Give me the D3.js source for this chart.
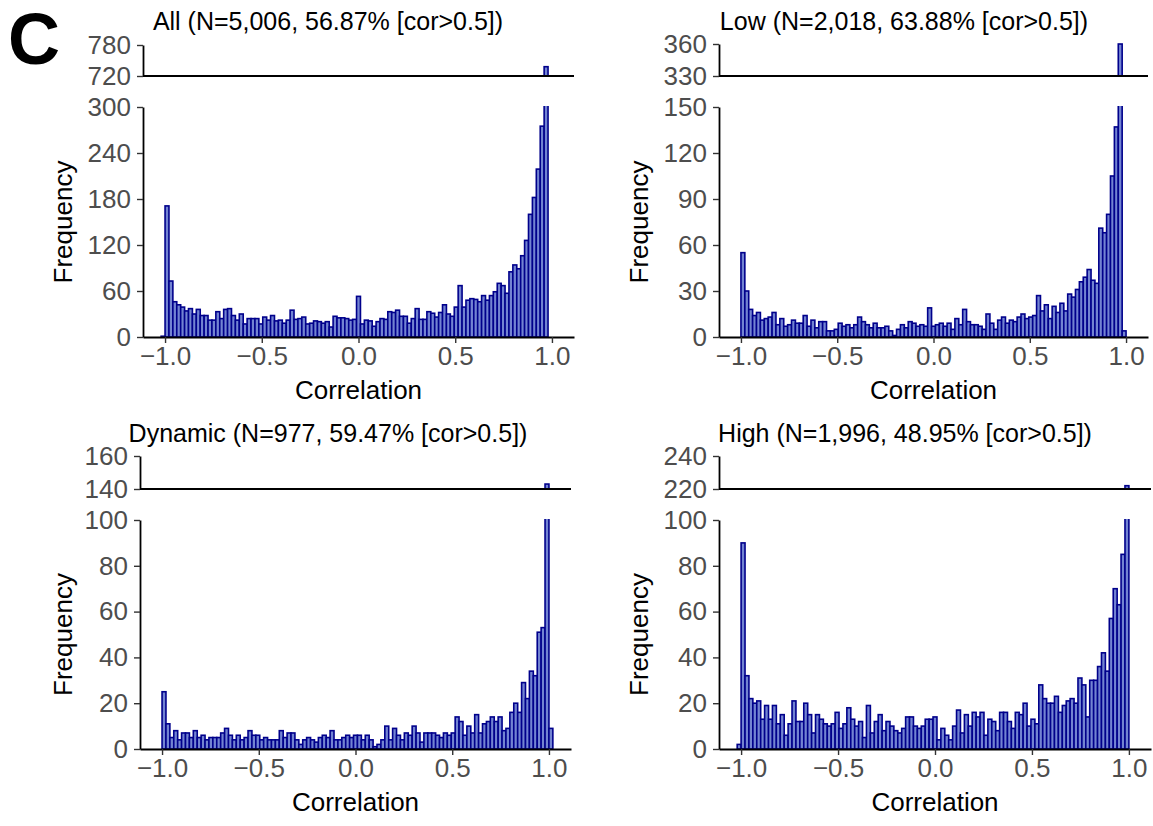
<!DOCTYPE html>
<html>
<head>
<meta charset="utf-8">
<script src="https://cdn.jsdelivr.net/npm/d3@7"></script>
<style>
  body { margin: 0; background: #fff; }
  svg text { font-family: "Liberation Sans", Arial, sans-serif; }
  .axis .tick text { fill: #4d4d4d; font-size: 26px; }
  .axis .tick line { stroke: #333; stroke-width: 1.4; }
  .axis .domain { stroke: #000; stroke-width: 1.8; }
  .title { font-size: 25px; fill: #000; }
  .axis-title { font-size: 26px; fill: #000; }
  .bar { fill: #7384d2; stroke: #00008b; stroke-width: 1.6; }
</style>
</head>
<body>
<svg id="chart" width="1153" height="826"></svg>
<script>
// Histogram bins: width 2/99, first bin starts at -1 - width (101 bins).
var binWidth = 2 / 99;
var xTicks = [-1, -0.5, 0, 0.5, 1];

var titles = [
  "All (N=5,006, 56.87% [cor>0.5])",
  "Low (N=2,018, 63.88% [cor>0.5])",
  "Dynamic (N=977, 59.47% [cor>0.5])",
  "High (N=1,996, 48.95% [cor>0.5])"
];

var allCounts = [
  1, 171, 73, 46, 42, 39, 34, 37, 30, 36, 28, 28, 22, 22, 33, 24, 36, 37, 28, 22,
  30, 17, 24, 24, 24, 17, 26, 22, 28, 21, 22, 18, 22, 35, 23, 24, 26, 17, 18, 21,
  20, 18, 20, 13, 27, 25, 25, 24, 22, 23, 53, 17, 22, 21, 14, 20, 24, 23, 33, 32,
  35, 27, 27, 18, 24, 37, 23, 23, 33, 31, 26, 32, 42, 30, 27, 39, 67, 39, 48, 50,
  49, 46, 54, 48, 54, 59, 70, 67, 57, 85, 94, 89, 106, 126, 160, 182, 219, 275, 738, 0,
  0
];

var lowCounts = [
  0, 55, 30, 18, 14, 16, 11, 12, 13, 16, 8, 12, 7, 8, 11, 9, 9, 14, 7, 11,
  6, 10, 10, 4, 4, 5, 9, 7, 8, 6, 8, 13, 10, 8, 6, 9, 6, 6, 7, 4,
  1, 5, 8, 6, 10, 9, 7, 8, 7, 19, 7, 8, 9, 7, 9, 5, 12, 8, 18, 10,
  8, 8, 7, 5, 15, 9, 5, 11, 13, 9, 11, 10, 13, 15, 12, 13, 14, 27, 17, 21,
  12, 20, 16, 22, 17, 28, 26, 31, 36, 39, 44, 37, 35, 71, 68, 80, 105, 137, 360, 4,
  0
];

var dynamicCounts = [
  0, 25, 11, 5, 8, 4, 7, 7, 5, 8, 5, 6, 4, 5, 5, 5, 7, 9, 6, 4,
  6, 4, 5, 8, 6, 6, 4, 5, 4, 4, 4, 8, 5, 7, 7, 4, 2, 4, 5, 4,
  3, 5, 6, 5, 8, 4, 4, 5, 6, 5, 6, 6, 4, 6, 4, 1, 2, 4, 10, 4,
  9, 6, 4, 7, 6, 10, 7, 3, 7, 7, 7, 6, 5, 7, 6, 7, 14, 12, 6, 10,
  7, 15, 7, 11, 12, 14, 12, 14, 8, 9, 16, 20, 16, 29, 22, 34, 32, 51, 53, 143,
  9
];

var highCounts = [
  2, 90, 32, 22, 20, 21, 13, 19, 13, 19, 11, 15, 6, 11, 21, 12, 12, 20, 15, 7,
  15, 13, 11, 10, 11, 16, 9, 11, 18, 13, 10, 12, 5, 19, 7, 12, 15, 8, 12, 10,
  8, 7, 9, 14, 14, 10, 9, 10, 13, 13, 14, 4, 9, 6, 4, 10, 17, 7, 15, 10,
  16, 14, 16, 6, 13, 12, 8, 16, 16, 12, 9, 16, 15, 20, 10, 13, 11, 28, 22, 20,
  20, 23, 16, 19, 21, 22, 20, 31, 28, 14, 30, 30, 36, 42, 34, 57, 70, 63, 85, 222,
  0
];

var mainTicks = [
  [0, 60, 120, 180, 240, 300],
  [0, 30, 60, 90, 120, 150],
  [0, 20, 40, 60, 80, 100],
  [0, 20, 40, 60, 80, 100]
];
var breakTicks = [
  [720, 780],
  [330, 360],
  [140, 160],
  [220, 240]
];

var countsList = [allCounts, lowCounts, dynamicCounts, highCounts];

// Panel placement on the page
var layouts = [
  { left: 143, right: 574, breakTop: 45, breakBottom: 76, mainTop: 107, mainBottom: 337, titleX: 328, titleY: 30, freqX: 72 },
  { left: 719, right: 1148, breakTop: 44, breakBottom: 76, mainTop: 107, mainBottom: 337, titleX: 904, titleY: 30, freqX: 648 },
  { left: 140, right: 571, breakTop: 456, breakBottom: 489, mainTop: 520, mainBottom: 749, titleX: 328, titleY: 442, freqX: 72 },
  { left: 719, right: 1151, breakTop: 456, breakBottom: 489, mainTop: 520, mainBottom: 749, titleX: 905, titleY: 442, freqX: 648 }
];

var svg = d3.select("#chart");

svg.append("text")
  .attr("x", 8)
  .attr("y", 64)
  .style("font-size", "72px")
  .style("font-weight", "bold")
  .text("C");

var renderPanel = function(i) {
  var lay = layouts[i];
  var counts = countsList[i];
  var bins = counts.map(function(n, j) {
    return { x0: -1 + (j - 1) * binWidth, x1: -1 + j * binWidth, n: n };
  });

  var xScale = d3.scaleLinear().domain([-1.114, 1.114]).range([lay.left, lay.right]);

  var mTicks = mainTicks[i];
  var yMax = mTicks[mTicks.length - 1];
  var yScale = d3.scaleLinear().domain([0, yMax]).range([lay.mainBottom, lay.mainTop]);

  var bTicks = breakTicks[i];
  var yBreak = d3.scaleLinear().domain([bTicks[0], bTicks[1]]).range([lay.breakBottom, lay.breakTop]);

  var g = svg.append("g").attr("class", "panel panel-" + i);

  // clip paths
  var clipMain = "clip-main-" + i;
  var clipBreak = "clip-break-" + i;
  var defs = g.append("defs");
  defs.append("clipPath").attr("id", clipMain)
    .append("rect")
    .attr("x", lay.left).attr("y", lay.mainTop - 1)
    .attr("width", lay.right - lay.left).attr("height", lay.mainBottom - lay.mainTop + 2);
  defs.append("clipPath").attr("id", clipBreak)
    .append("rect")
    .attr("x", lay.left).attr("y", lay.breakTop - 1)
    .attr("width", lay.right - lay.left).attr("height", lay.breakBottom - lay.breakTop + 1);

  // main bars
  g.append("g")
    .attr("clip-path", "url(#" + clipMain + ")")
    .selectAll("rect")
    .data(bins)
    .enter()
    .append("rect")
    .attr("class", "bar")
    .attr("x", function(d) { return xScale(d.x0); })
    .attr("width", function(d) { return xScale(d.x1) - xScale(d.x0); })
    .attr("y", function(d) { return yScale(Math.min(d.n, yMax + 5)); })
    .attr("height", function(d) { return yScale(0) - yScale(Math.min(d.n, yMax + 5)); });

  // bars reaching the upper segment
  g.append("g")
    .attr("clip-path", "url(#" + clipBreak + ")")
    .selectAll("rect")
    .data(bins.filter(function(d) { return d.n > bTicks[0]; }))
    .enter()
    .append("rect")
    .attr("class", "bar")
    .attr("x", function(d) { return xScale(d.x0); })
    .attr("width", function(d) { return xScale(d.x1) - xScale(d.x0); })
    .attr("y", function(d) { return yBreak(Math.min(d.n, bTicks[1])); })
    .attr("height", function(d) { return yBreak(bTicks[0]) - yBreak(Math.min(d.n, bTicks[1])) + 2; });

  // axes
  g.append("g")
    .attr("class", "axis y-main")
    .attr("transform", "translate(" + lay.left + ",0)")
    .call(d3.axisLeft(yScale).tickValues(mTicks).tickSize(6).tickSizeOuter(0).tickPadding(6));

  g.append("g")
    .attr("class", "axis x-main")
    .attr("transform", "translate(0," + lay.mainBottom + ")")
    .call(d3.axisBottom(xScale).tickValues(xTicks).tickFormat(d3.format(".1f")).tickSize(6).tickSizeOuter(0).tickPadding(4));

  g.append("g")
    .attr("class", "axis y-break")
    .attr("transform", "translate(" + lay.left + ",0)")
    .call(d3.axisLeft(yBreak).tickValues(bTicks).tickSize(6).tickSizeOuter(0).tickPadding(6));

  g.append("line")
    .attr("x1", lay.left).attr("x2", lay.right)
    .attr("y1", lay.breakBottom).attr("y2", lay.breakBottom)
    .attr("stroke", "#000").attr("stroke-width", 1.8);

  // texts
  g.append("text")
    .attr("class", "title")
    .attr("x", lay.titleX).attr("y", lay.titleY)
    .attr("text-anchor", "middle")
    .text(titles[i]);

  g.append("text")
    .attr("class", "axis-title")
    .attr("x", (xScale(-1) + xScale(1)) / 2)
    .attr("y", lay.mainBottom + 62)
    .attr("text-anchor", "middle")
    .text("Correlation");

  g.append("text")
    .attr("class", "axis-title")
    .attr("transform", "translate(" + lay.freqX + "," + (lay.mainTop + lay.mainBottom) / 2 + ") rotate(-90)")
    .attr("text-anchor", "middle")
    .text("Frequency");
};

[0, 1, 2, 3].forEach(renderPanel);
</script>
</body>
</html>
